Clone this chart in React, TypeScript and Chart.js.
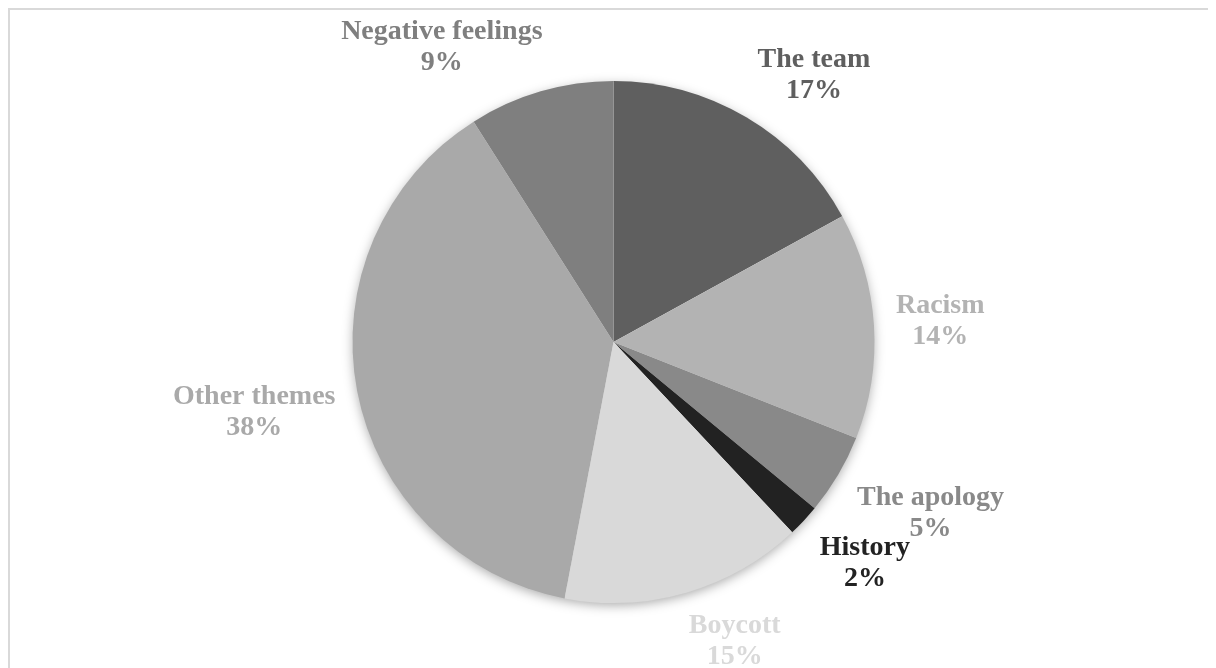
import React, { useEffect, useRef } from "react";
import { Chart, registerables } from "chart.js";

Chart.register(...registerables);

const categories = ["The team", "Racism", "The apology", "History", "Boycott", "Other themes", "Negative feelings"];
const shares = [17, 14, 5, 2, 15, 38, 9];
const sliceColors = ["#5f5f5f", "#b3b3b3", "#898989", "#222222", "#d9d9d9", "#a9a9a9", "#7f7f7f"];

const LABEL_FONT = 'bold 28px "Liberation Serif", "Times New Roman", serif';

const shadowPlugin = {
  id: "pieShadow",
  beforeDatasetsDraw(chart: any) {
    const meta = chart.getDatasetMeta(0);
    if (!meta.data.length) return;
    const { x, y, outerRadius } = meta.data[0].getProps(["x", "y", "outerRadius"], true);
    const ctx = chart.ctx;
    ctx.save();
    ctx.shadowColor = "rgba(0,0,0,0.35)";
    ctx.shadowBlur = 12;
    ctx.shadowOffsetY = 3;
    ctx.fillStyle = "#ffffff";
    ctx.beginPath();
    ctx.arc(x, y, outerRadius - 1, 0, Math.PI * 2);
    ctx.fill();
    ctx.restore();
  },
};

const labelPlugin = {
  id: "outsideLabels",
  afterDatasetsDraw(chart: any) {
    const ctx = chart.ctx;
    const meta = chart.getDatasetMeta(0);
    const total = shares.reduce((a, b) => a + b, 0);
    ctx.save();
    ctx.font = LABEL_FONT;
    ctx.textAlign = "center";
    ctx.textBaseline = "alphabetic";
    const f = (t: number) => Math.max(-1, Math.min(1, t * 3.3));
    const lineGap = 31;
    const capH = 19;
    const gap = 22;
    meta.data.forEach((arc: any, i: number) => {
      const { x, y, startAngle, endAngle, outerRadius } = arc.getProps(
        ["x", "y", "startAngle", "endAngle", "outerRadius"],
        true
      );
      const mid = (startAngle + endAngle) / 2;
      const ux = Math.cos(mid);
      const uy = Math.sin(mid);
      const l1 = categories[i];
      const l2 = Math.round((shares[i] / total) * 100) + "%";
      const w = Math.max(ctx.measureText(l1).width, ctx.measureText(l2).width);
      const h = 50;
      const cx = x + ux * (outerRadius + gap) + (w / 2) * f(ux);
      const cy = y + uy * (outerRadius + gap) + (h / 2) * f(uy);
      ctx.fillStyle = sliceColors[i];
      ctx.fillText(l1, cx, cy - lineGap / 2 + capH / 2);
      ctx.fillText(l2, cx, cy + lineGap / 2 + capH / 2);
    });
    ctx.restore();
  },
};

export default function App() {
  const canvasRef = useRef<HTMLCanvasElement | null>(null);

  useEffect(() => {
    if (!canvasRef.current) return;
    const chart = new Chart(canvasRef.current, {
      type: "pie",
      data: {
        labels: categories,
        datasets: [
          {
            data: shares,
            backgroundColor: sliceColors,
            borderWidth: 0,
            hoverOffset: 0,
            offset: 0,
          },
        ],
      },
      options: {
        animation: false,
        responsive: false,
        devicePixelRatio: 1,
        layout: { padding: { left: 1, right: 0, top: 71, bottom: 65 } },
        plugins: {
          legend: { display: false },
          tooltip: { enabled: false },
        },
      },
      plugins: [shadowPlugin, labelPlugin],
    } as any);
    return () => chart.destroy();
  }, []);

  return (
    <div
      style={{
        width: 1208,
        height: 660,
        boxSizing: "border-box",
        borderTop: "2px solid #d9d9d9",
        borderLeft: "2px solid #d9d9d9",
        background: "#ffffff",
        overflow: "hidden",
      }}
    >
      <canvas ref={canvasRef} width={1206} height={658} style={{ display: "block" }} />
    </div>
  );
}
